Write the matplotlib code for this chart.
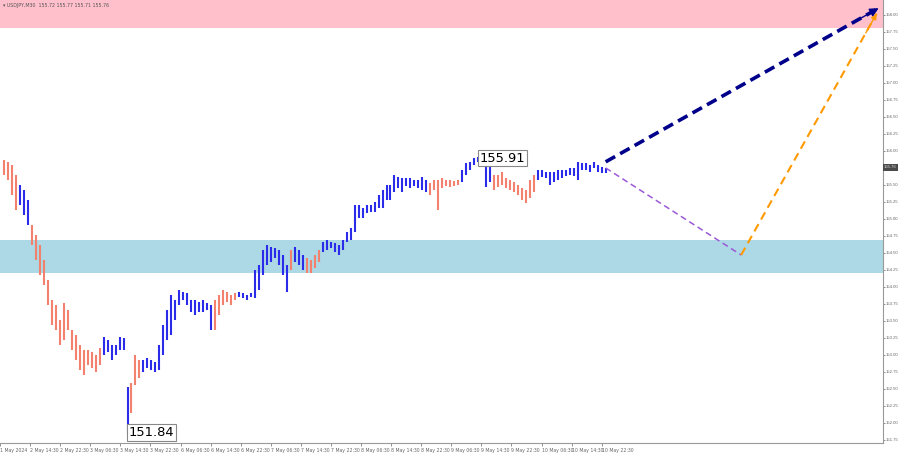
import matplotlib
matplotlib.use("Agg")
import matplotlib.pyplot as plt
import numpy as np

# ---------------- data ----------------
title_text = "\u25be USDJPY,M30  155.72 155.77 155.71 155.76"

highs = [155.86, 155.84, 155.79, 155.65, 155.50, 155.43, 155.28, 154.91, 154.76, 154.62,
         154.40, 154.10, 153.81, 153.74, 153.51, 153.76, 153.66, 153.37, 153.29, 153.15,
         153.07, 153.07, 153.04, 153.00, 153.10, 153.26, 153.22, 153.15, 153.15, 153.26,
         153.25, 152.53, 152.59, 153.00, 152.93, 152.93, 152.96, 152.93, 152.90, 153.15,
         153.44, 153.66, 153.88, 153.81, 153.96, 153.93, 153.91, 153.81, 153.81, 153.78,
         153.81, 153.76, 153.74, 153.81, 153.88, 153.96, 153.93, 153.88, 153.91, 153.93,
         153.91, 153.88, 153.91, 154.25, 154.32, 154.54, 154.62, 154.59, 154.57, 154.54,
         154.47, 154.32, 154.54, 154.59, 154.54, 154.47, 154.43, 154.40, 154.47, 154.54,
         154.66, 154.69, 154.66, 154.65, 154.62, 154.69, 154.81, 154.87, 155.21, 155.21,
         155.16, 155.21, 155.21, 155.25, 155.35, 155.43, 155.50, 155.50, 155.65, 155.62,
         155.60, 155.60, 155.60, 155.57, 155.57, 155.62, 155.57, 155.53, 155.57, 155.57,
         155.60, 155.57, 155.57, 155.56, 155.57, 155.72, 155.82, 155.84, 155.90, 155.91,
         155.90, 155.87, 155.79, 155.65, 155.65, 155.69, 155.60, 155.57, 155.54, 155.50,
         155.46, 155.43, 155.57, 155.65, 155.72, 155.72, 155.69, 155.69, 155.69, 155.72,
         155.72, 155.72, 155.75, 155.75, 155.84, 155.82, 155.82, 155.79, 155.84, 155.79,
         155.76, 155.75]
lows = [155.65, 155.57, 155.35, 155.13, 155.21, 155.06, 154.91, 154.62, 154.40, 154.18,
        154.03, 153.74, 153.44, 153.37, 153.15, 153.22, 153.37, 153.07, 152.93, 152.78,
        152.71, 152.85, 152.81, 152.75, 152.85, 153.00, 153.04, 152.93, 153.00, 153.07,
        153.07, 151.84, 152.15, 152.56, 152.66, 152.75, 152.81, 152.78, 152.75, 152.78,
        153.00, 153.22, 153.29, 153.51, 153.74, 153.81, 153.74, 153.63, 153.59, 153.63,
        153.63, 153.66, 153.37, 153.37, 153.59, 153.74, 153.78, 153.74, 153.81, 153.85,
        153.84, 153.81, 153.85, 153.84, 153.96, 154.18, 154.32, 154.37, 154.43, 154.32,
        154.18, 153.93, 154.25, 154.37, 154.32, 154.25, 154.21, 154.21, 154.28, 154.37,
        154.51, 154.54, 154.57, 154.51, 154.47, 154.54, 154.66, 154.69, 154.81, 155.01,
        155.01, 155.09, 155.10, 155.10, 155.16, 155.16, 155.28, 155.28, 155.40, 155.46,
        155.40, 155.48, 155.46, 155.48, 155.46, 155.43, 155.40, 155.35, 155.43, 155.13,
        155.46, 155.48, 155.47, 155.48, 155.50, 155.54, 155.65, 155.72, 155.79, 155.84,
        155.78, 155.47, 155.54, 155.43, 155.47, 155.50, 155.46, 155.43, 155.40, 155.35,
        155.28, 155.23, 155.31, 155.40, 155.57, 155.62, 155.60, 155.50, 155.54, 155.57,
        155.60, 155.63, 155.65, 155.63, 155.57, 155.72, 155.72, 155.69, 155.75, 155.69,
        155.68, 155.68]

# first bar index of each wave; waves alternate down / up starting with down
wave_starts = [0, 4, 7, 25, 32, 35, 53, 59, 72, 73, 76, 80, 107, 115, 123, 134]

last_price = 155.76
peak_label = "155.91"
low_label = "151.84"

# zones (price bands)
resistance_zone = [157.81, 158.40]
support_zone = [154.20, 154.69]

# forecast paths: bar index, price
main_forecast_x = [151, 219.5]
main_forecast_y = [155.84, 158.10]
alt_forecast_x = [151, 185, 219]
alt_forecast_y = [155.75, 154.47, 158.02]

# time axis labels
time_labels = ["1 May 2024", "2 May 14:30", "2 May 22:30", "3 May 06:30", "3 May 14:30",
               "3 May 22:30", "6 May 06:30", "6 May 14:30", "6 May 22:30", "7 May 06:30",
               "7 May 14:30", "7 May 22:30", "8 May 06:30", "8 May 14:30", "8 May 22:30",
               "9 May 06:30", "9 May 14:30", "9 May 22:30", "10 May 06:30", "10 May 14:30",
               "10 May 22:30"]
price_ticks = [151.75, 152.00, 152.25, 152.50, 152.75, 153.00, 153.25, 153.50, 153.75,
               154.00, 154.25, 154.50, 154.75, 155.00, 155.25, 155.50, 155.75, 156.00,
               156.25, 156.50, 156.75, 157.00, 157.25, 157.50, 157.75, 158.00]

# ---------------- style ----------------
DOWN = "#F2826E"
UP = "#2B2BEA"
PINK = "#FFC0CB"
LBLUE = "#ADD8E6"

plt.rcParams["font.family"] = ["DejaVu Sans"]
W, H = 900, 455
fig = plt.figure(figsize=(W / 100, H / 100), dpi=100)
ax = fig.add_axes([0, 12 / H, 883 / W, 443 / H])
ax.set_xlim(-0.4, 220.6)
ax.set_ylim(151.705, 158.22)

ax.axhspan(resistance_zone[0], resistance_zone[1], color=PINK, lw=0, zorder=0)
ax.axhspan(support_zone[0], support_zone[1], color=LBLUE, lw=0, zorder=0)

n = len(highs)
idx = np.arange(n)
colors = []
bounds = wave_starts + [n]
for k in range(len(wave_starts)):
    c = DOWN if k % 2 == 0 else UP
    colors += [c] * (bounds[k + 1] - bounds[k])
ax.vlines(idx, lows, highs, colors=colors, lw=1.5, zorder=3)

# forecast lines
ax.plot(alt_forecast_x[:2], alt_forecast_y[:2], color="#9B59D6", lw=1.1,
        ls=(0, (4, 2.5)), zorder=4)
ax.plot(alt_forecast_x[1:], alt_forecast_y[1:], color="#FF9900", lw=1.5,
        ls=(0, (4, 2.5)), zorder=4)
ax.plot(main_forecast_x, main_forecast_y, color="#00008B", lw=2.6,
        ls=(0, (3, 1.6)), zorder=5)

def head(xs, ys, color, scale):
    dx = xs[-1] - xs[-2]
    dy = ys[-1] - ys[-2]
    t = 0.08
    ax.annotate("", xy=(xs[-1], ys[-1]), xytext=(xs[-1] - dx * t, ys[-1] - dy * t),
                arrowprops=dict(arrowstyle="-|>", color=color, lw=1.0,
                                mutation_scale=scale, shrinkA=0, shrinkB=0),
                zorder=6, annotation_clip=False)

head(alt_forecast_x, alt_forecast_y, "#FF9900", 8)
head(main_forecast_x, main_forecast_y, "#00008B", 13)

# extreme labels
imax = int(np.argmax(highs))
imin = int(np.argmin(lows))
bb = dict(boxstyle="square,pad=0.12", fc="white", ec="#888888", lw=0.8)
ax.text(imax + 0.3, highs[imax] - 0.02, peak_label, fontsize=9.4, ha="left",
        va="center", bbox=bb, zorder=7, color="black")
ax.text(imin + 0.3, lows[imin] + 0.02, low_label, fontsize=9.4, ha="left",
        va="center", bbox=bb, zorder=7, color="black")

# axes styling
for s in ["left", "top"]:
    ax.spines[s].set_visible(False)
ax.spines["right"].set_color("#999999")
ax.spines["bottom"].set_color("#999999")
ax.spines["right"].set_linewidth(0.8)
ax.spines["bottom"].set_linewidth(0.8)

ax.yaxis.tick_right()
ax.set_yticks(price_ticks)
ax.set_yticklabels([f"{p:.2f}" for p in price_ticks])
ax.tick_params(axis="y", labelsize=3.1, colors="#666666", length=1.2, width=0.5, pad=1.0)
for p, lab in zip(price_ticks, ax.get_yticklabels()):
    lab.set_family(["Liberation Sans", "DejaVu Sans"])
    # the current-price marker covers the nearest price label
    if abs(p - last_price) < 0.05:
        lab.set_visible(False)

tick_step = 30.2 / 4.0
tick_pos = [-1.0 + tick_step * k for k in range(len(time_labels))]
ax.set_xticks(tick_pos)
ax.set_xticklabels(time_labels)
ax.tick_params(axis="x", labelsize=3.3, colors="#666666", length=2, width=0.5, pad=1.5)
for lab in ax.get_xticklabels():
    lab.set_ha("left")

# current price marker on price axis
ax.text(1.001, last_price, f"{last_price:.2f}", transform=ax.get_yaxis_transform(),
        fontsize=3.1, color="#dddddd", ha="left", va="center", clip_on=False,
        family=["Liberation Sans", "DejaVu Sans"],
        bbox=dict(boxstyle="square,pad=0.3", fc="#4a4a4a", ec="none"), zorder=8)

fig.text(3 / W, 1 - 6 / H, title_text, fontsize=3.4, color="#555555",
         ha="left", va="center")

fig.savefig("out.png", dpi=100, facecolor="white")
